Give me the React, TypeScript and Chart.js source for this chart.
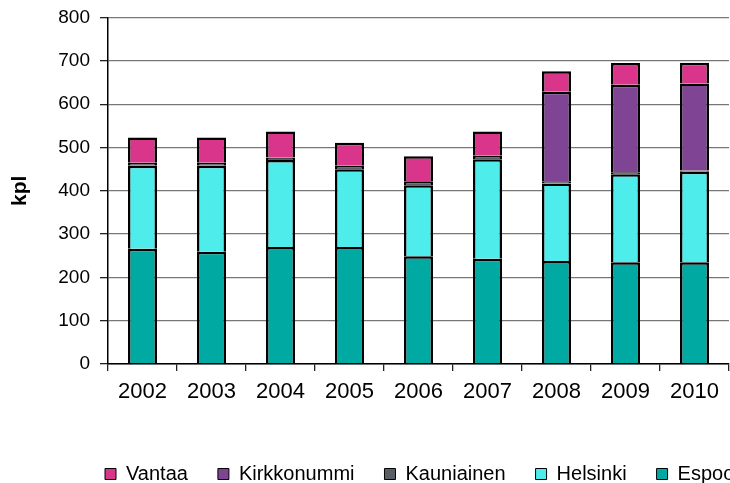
import React, { useEffect, useRef } from 'react';
import { Chart, registerables } from 'chart.js';

Chart.register(...registerables);

const categories = ['2002', '2003', '2004', '2005', '2006', '2007', '2008', '2009', '2010'];
const espoo = [266, 259, 270, 270, 249, 243, 238, 235, 235];
const helsinki = [192, 199, 201, 180, 164, 230, 179, 203, 209];
const kauniainen = [7, 7, 6, 8, 9, 8, 5, 5, 3];
const kirkkonummi = [0, 0, 0, 0, 0, 0, 207, 202, 201];
const vantaa = [58, 58, 60, 53, 58, 56, 47, 50, 48];
const yMin = 0;
const yMax = 800;
const yStep = 100;

const FONT = "'Liberation Sans', Arial, sans-serif";

const legendShift = {
  id: 'legendShift',
  afterLayout(chart: any) {
    const lg = chart.legend;
    if (!lg) return;
    const pad = lg.options.labels.padding;
    const w = lg.right - lg.left;
    const h = lg.bottom - lg.top;
    lg.left = 105 - pad;
    lg.right = lg.left + w;
    lg.top = 464 - pad;
    lg.bottom = lg.top + h;
  },
};

export default function App() {
  const ref = useRef<HTMLCanvasElement>(null);

  useEffect(() => {
    if (!ref.current) return;
    const mk = (label: string, data: number[], color: string) => ({
      label,
      data,
      backgroundColor: color,
      borderColor: '#000',
      borderWidth: 2.5,
      barPercentage: 0.42,
      categoryPercentage: 1,
    });
    const chart = new Chart(ref.current, {
      type: 'bar',
      data: {
        labels: categories,
        datasets: [
          mk('Espoo', espoo, '#00A9A1'),
          mk('Helsinki', helsinki, '#4EECEB'),
          mk('Kauniainen', kauniainen, '#5A5F66'),
          mk('Kirkkonummi', kirkkonummi, '#7F4493'),
          mk('Vantaa', vantaa, '#D9358A'),
        ],
      },
      options: {
        animation: false,
        responsive: false,
        layout: { padding: { top: 10, right: 1, left: 0, bottom: 0 } },
        plugins: {
          tooltip: { enabled: false },
          legend: {
            position: 'bottom',
            align: 'start',
            reverse: true,
            labels: {
              boxWidth: 11,
              boxHeight: 11,
              padding: 30,
              color: '#000',
              font: { family: FONT, size: 20 },
              generateLabels: (c: any) => {
                const items = Chart.defaults.plugins.legend.labels.generateLabels(c);
                return items.map((it: any) => ({ ...it, lineWidth: 1 }));
              },
            },
          },
        },
        scales: {
          x: {
            stacked: true,
            grid: {
              offset: true,
              drawOnChartArea: true,
              color: (ctx: any) => (ctx.index === categories.length ? '#9a9a9a' : 'rgba(0,0,0,0)'),
              tickColor: '#222',
              tickLength: 7,
              lineWidth: 1.3,
            },
            border: { display: true, color: '#000', width: 1.5 },
            ticks: {
              color: '#000',
              font: { family: FONT, size: 22 },
              padding: 8,
              maxRotation: 0,
              autoSkip: false,
            },
            afterFit: (a: any) => {
              a.height = 59;
            },
          },
          y: {
            stacked: true,
            min: yMin,
            max: yMax,
            ticks: {
              stepSize: yStep,
              color: '#000',
              font: { family: FONT, size: 19, lineHeight: 0.8 },
              padding: 10,
            },
            grid: {
              color: '#777',
              lineWidth: 1.3,
              tickColor: '#222',
              tickLength: 8,
            },
            border: { display: true, color: '#000', width: 1.5 },
            title: {
              display: true,
              text: 'kpl',
              color: '#000',
              font: { family: FONT, size: 21, weight: 'bold' },
              padding: { top: 8, bottom: 0 },
            },
            afterFit: (a: any) => {
              a.width = 108;
            },
          },
        },
      },
      plugins: [legendShift],
    } as any);
    return () => chart.destroy();
  }, []);

  return (
    <div style={{ position: 'absolute', left: 0, top: 0, width: 730, height: 483, overflow: 'hidden', background: '#fff' }}>
      <canvas ref={ref} width={730} height={483} style={{ display: 'block' }} />
    </div>
  );
}
